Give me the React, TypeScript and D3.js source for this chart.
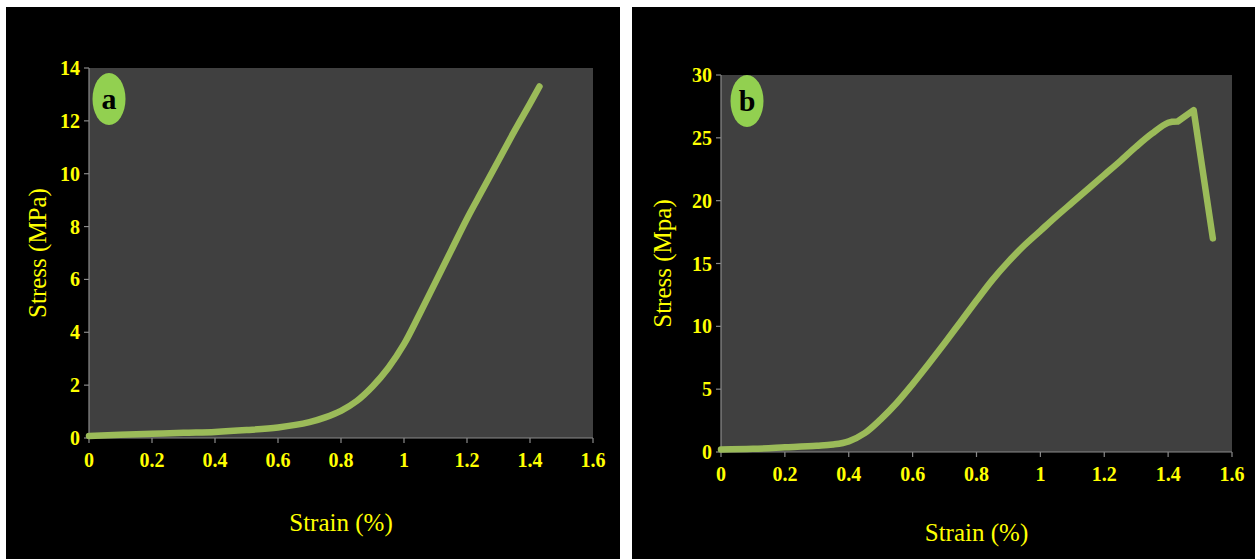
import React from "react";
import * as d3 from "d3";

const strainA = [0, 0.1, 0.2, 0.3, 0.4, 0.5, 0.6, 0.7, 0.75, 0.8, 0.85, 0.9, 0.95, 1.0, 1.05, 1.1, 1.15, 1.2, 1.25, 1.3, 1.35, 1.4, 1.43];
const stressA = [0.08, 0.12, 0.16, 0.2, 0.23, 0.3, 0.4, 0.6, 0.78, 1.03, 1.4, 1.95, 2.65, 3.55, 4.7, 5.9, 7.1, 8.3, 9.4, 10.5, 11.6, 12.65, 13.3];

const strainB = [0, 0.1, 0.2, 0.3, 0.35, 0.4, 0.45, 0.5, 0.55, 0.6, 0.65, 0.7, 0.75, 0.8, 0.85, 0.9, 0.95, 1.0, 1.05, 1.1, 1.15, 1.2, 1.25, 1.3, 1.35, 1.4, 1.43, 1.48, 1.54];
const stressB = [0.2, 0.25, 0.37, 0.5, 0.6, 0.85, 1.5, 2.6, 3.9, 5.4, 7.0, 8.65, 10.35, 12.05, 13.7, 15.15, 16.45, 17.6, 18.75, 19.85, 20.95, 22.05, 23.15, 24.3, 25.35, 26.2, 26.3, 27.2, 17.0];

const xTicks = [0, 0.2, 0.4, 0.6, 0.8, 1, 1.2, 1.4, 1.6];
const yTicksA = [0, 2, 4, 6, 8, 10, 12, 14];
const yTicksB = [0, 5, 10, 15, 20, 25, 30];

const YELLOW = "#ffff00";
const LINE = "#9bbb59";
const FONT = "Liberation Serif, Times New Roman, Times, DejaVu Serif, serif";

type PanelProps = {
  xs: number[];
  ys: number[];
  yTicks: number[];
  yMax: number;
  left: number;
  right: number;
  top: number;
  bottom: number;
  label: string;
  yTitle: string;
  yTitleX: number;
  xTitleY: number;
  badge: [number, number];
  linearTail: number;
};

function Panel(p: PanelProps) {
  const x = d3.scaleLinear().domain([0, 1.6]).range([p.left, p.right]);
  const y = d3.scaleLinear().domain([0, p.yMax]).range([p.bottom, p.top]);
  const data = p.xs.map((v, i) => [v, p.ys[i]] as [number, number]);
  const line = d3
    .line<[number, number]>()
    .x((d) => x(d[0]))
    .y((d) => y(d[1]))
    .curve(d3.curveCatmullRom.alpha(0.5));
  const smooth = data.slice(0, data.length - p.linearTail);
  let path = line(smooth) || "";
  data.slice(data.length - p.linearTail).forEach((d) => {
    path += `L${x(d[0])},${y(d[1])}`;
  });
  return (
    <g>
      <rect x={p.left} y={p.top} width={p.right - p.left} height={p.bottom - p.top} fill="#404040" />
      <line x1={p.left} x2={p.left} y1={p.top} y2={p.bottom} stroke="#8a8a8a" strokeWidth={1.2} />
      <line x1={p.left} x2={p.right} y1={p.bottom} y2={p.bottom} stroke="#8a8a8a" strokeWidth={1.2} />
      {p.yTicks.map((t) => (
        <g key={"y" + t}>
          <line x1={p.left - 5} x2={p.left} y1={y(t)} y2={y(t)} stroke="#8a8a8a" strokeWidth={1.2} />
          <text x={p.left - 9} y={y(t)} dy="0.35em" textAnchor="end" fill={YELLOW} style={{ fontFamily: FONT }} fontWeight="bold" fontSize={20}>
            {t}
          </text>
        </g>
      ))}
      {xTicks.map((t) => (
        <g key={"x" + t}>
          <line x1={x(t)} x2={x(t)} y1={p.bottom} y2={p.bottom + 5} stroke="#8a8a8a" strokeWidth={1.2} />
          <text x={x(t)} y={p.bottom + 29} textAnchor="middle" fill={YELLOW} style={{ fontFamily: FONT }} fontWeight="bold" fontSize={20}>
            {t}
          </text>
        </g>
      ))}
      <path d={path} fill="none" stroke={LINE} strokeWidth={6.5} strokeLinejoin="round" strokeLinecap="round" />
      <ellipse cx={p.badge[0]} cy={p.badge[1]} rx={16.5} ry={26} fill="#92d050" />
      <text x={p.badge[0]} y={p.badge[1]} dy="0.32em" textAnchor="middle" fill="#000" style={{ fontFamily: FONT }} fontWeight="bold" fontSize={30}>
        {p.label}
      </text>
      <text x={(p.left + p.right) / 2} y={p.xTitleY} dy="0.35em" textAnchor="middle" fill={YELLOW} style={{ fontFamily: FONT }} fontSize={25}>
        Strain (%)
      </text>
      <text
        transform={`translate(${p.yTitleX},${(p.top + p.bottom) / 2}) rotate(-90)`}
        dy="0.35em"
        textAnchor="middle"
        fill={YELLOW}
        style={{ fontFamily: FONT }}
        fontSize={25}
      >
        {p.yTitle}
      </text>
    </g>
  );
}

export default function App() {
  return (
    <svg width={1255} height={559} style={{ position: "absolute", left: 0, top: 0, background: "#fff" }}>
      <rect x={0} y={0} width={1255} height={559} fill="#fff" />
      <rect x={6} y={7} width={614} height={552} fill="#000" />
      <rect x={632} y={7} width={623} height={552} fill="#000" />
      <Panel
        xs={strainA}
        ys={stressA}
        yTicks={yTicksA}
        yMax={14}
        left={89}
        right={593}
        top={68}
        bottom={438}
        label="a"
        yTitle="Stress (MPa)"
        yTitleX={37}
        xTitleY={522}
        badge={[109, 99]}
        linearTail={0}
      />
      <Panel
        xs={strainB}
        ys={stressB}
        yTicks={yTicksB}
        yMax={30}
        left={721}
        right={1232}
        top={75}
        bottom={452}
        label="b"
        yTitle="Stress (Mpa)"
        yTitleX={662}
        xTitleY={532}
        badge={[747, 101]}
        linearTail={2}
      />
    </svg>
  );
}
